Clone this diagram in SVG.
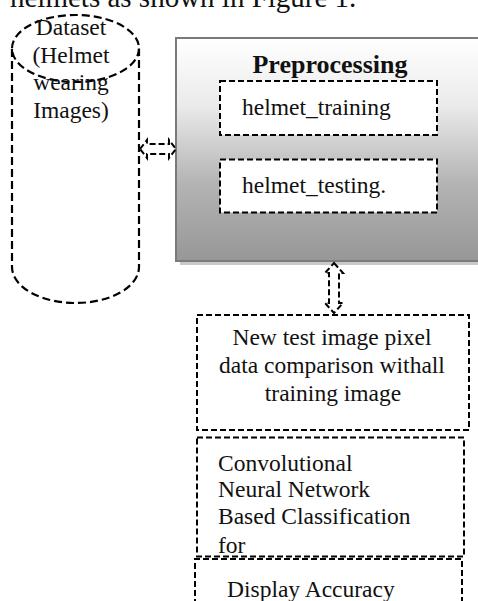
<svg xmlns="http://www.w3.org/2000/svg" width="478" height="601" viewBox="0 0 478 601">
  <style>
    text { font-family: "Liberation Serif", "Times New Roman", serif; fill: #111; }
    .t { font-size: 23.5px; }
    .c { text-anchor: middle; }
    .dash { fill: none; stroke: #000; stroke-width: 2; stroke-dasharray: 6 3; }
    .dashw { fill: #fff; stroke: #000; stroke-width: 2; stroke-dasharray: 6 3; }
    .cyl { fill: none; stroke: #000; stroke-width: 2.2; stroke-dasharray: 8 4; }
  </style>
  <defs>
    <linearGradient id="prepFill" x1="0" y1="0" x2="0" y2="1">
      <stop offset="0" stop-color="#ffffff"/>
      <stop offset="0.3" stop-color="#ebebeb"/>
      <stop offset="0.65" stop-color="#b4b4b4"/>
      <stop offset="1" stop-color="#979797"/>
    </linearGradient>
  </defs>

  <!-- running text above the figure -->
  <text x="10" y="7" style="font-size:29px">helmets as shown in Figure 1.</text>

  <!-- dataset store -->
  <g id="dataset">
    <path class="cyl" d="M12 49 V267 A63.5 36 0 0 0 139 267 V49"/>
    <ellipse class="cyl" cx="75.5" cy="48.5" rx="63.5" ry="33.5"/>
    <text class="t c" x="71" y="35">Dataset</text>
    <text class="t c" x="71" y="63">(Helmet</text>
    <text class="t c" x="71" y="90">wearing</text>
    <text class="t c" x="71" y="118">Images)</text>
  </g>

  <!-- preprocessing stage -->
  <g id="preprocessing">
    <rect x="180" y="42" width="310" height="223" fill="#c9c9c9"/>
    <rect x="176" y="38" width="310" height="223" fill="url(#prepFill)" stroke="#7a7a7a" stroke-width="2"/>
    <text x="330" y="73" class="c" style="font-size:26px;font-weight:bold">Preprocessing</text>
    <g id="helmet-training">
      <rect class="dashw" x="220" y="81" width="217" height="54"/>
      <text class="t" x="242" y="115">helmet_training</text>
    </g>
    <g id="helmet-testing">
      <rect class="dashw" x="220" y="159.5" width="217" height="53"/>
      <text class="t" x="242" y="193">helmet_testing.</text>
    </g>
  </g>

  <!-- comparison stage -->
  <g id="comparison">
    <rect class="dash" x="197" y="315" width="272" height="115"/>
    <text class="t c" x="332" y="345">New test image pixel</text>
    <text class="t c" x="332" y="373">data comparison withall</text>
    <text class="t c" x="333" y="401">training image</text>
  </g>

  <!-- classification stage -->
  <g id="classification">
    <rect class="dash" x="197" y="437.5" width="267" height="119"/>
    <text class="t" x="218" y="470.5">Convolutional</text>
    <text class="t" x="218" y="497">Neural Network</text>
    <text class="t" x="218" y="524">Based Classification</text>
    <text class="t" x="218" y="552.5">for</text>
  </g>

  <!-- result stage -->
  <g id="accuracy">
    <path class="dash" d="M195 605 V559 H462 V605"/>
    <text class="t" x="227" y="597">Display Accuracy</text>
  </g>

  <!-- connectors: hollow double-headed block arrows -->
  <g id="connectors">
    <polygon class="dash" points="140,149 147,140 147,144 169,144 169,140 176,149 169,158 169,154 147,154 147,158"/>
    <polygon class="dash" points="334,263 343,273 339,273 339,303 343,303 334,313 325,303 329,303 329,273 325,273"/>
  </g>
</svg>
